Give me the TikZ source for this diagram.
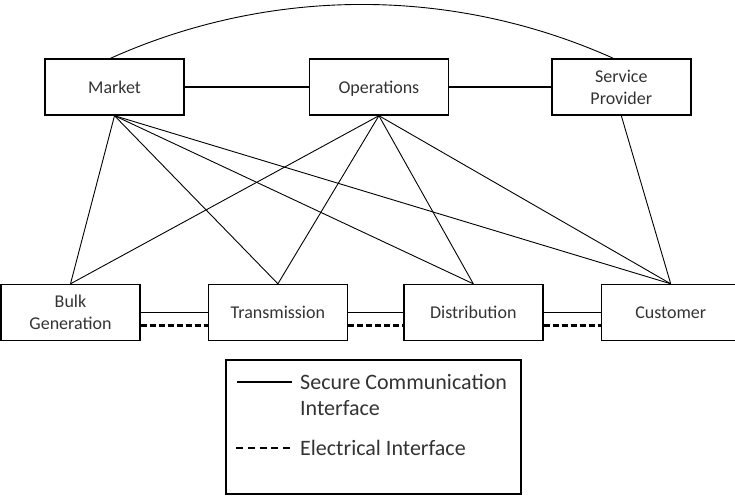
\documentclass[tikz,border=0pt]{standalone}
\usepackage{fontspec}
\setmainfont{Carlito}
\usetikzlibrary{positioning}

\begin{document}
\begin{tikzpicture}[x=1pt, y=-1pt,
  block/.style={draw, rectangle, line width=1.4pt, minimum width=139pt, minimum height=56pt, align=center, inner sep=2pt, font=\fontsize{18}{22}\selectfont, text=black!80},
  link/.style={line width=0.9pt},
  bus/.style={line width=1.4pt},
  feed/.style={line width=2.2pt, dash pattern=on 6pt off 3pt},
  keytext/.style={anchor=west, inner sep=0pt, align=left, font=\fontsize{22}{26}\selectfont, text=black!80}]
\useasboundingbox (0,0) rectangle (735,496);

% top row
\node (market) [block] at (114.5,87) {Market};
\node (ops) [block, text depth=0pt, right=124pt of market] {Operations};
\node (sp) [block, right=102pt of ops] {Service\\Provider};

% bottom row
\node (bulk) [block] at (70.5,312.5) {Bulk\\Generation};
\node (trans) [block, right=67pt of bulk] {Transmission};
\node (dist) [block, right=55pt of trans] {Distribution};
\node (cust) [block, right=57pt of dist] {Customer};

% communication links
\draw[bus] (market) -- (ops);
\draw[bus] (ops) -- (sp);
\coordinate (arcin) at (269.5,-13);
\coordinate (arcout) at (452,-14);
\draw[link] ([xshift=-4pt]market.north) .. controls (arcin) and (arcout) .. ([xshift=-8pt]sp.north);
\draw[link] (market.south) -- (bulk.north);
\draw[link] (market.south) -- (trans.north);
\draw[link] (market.south) -- (dist.north);
\draw[link] (market.south) -- (cust.north);
\draw[link] (ops.south) -- (bulk.north);
\draw[link] (ops.south) -- (trans.north);
\draw[link] (ops.south) -- (dist.north);
\draw[link] (ops.south) -- (cust.north);
\draw[link] (sp.south) -- (cust.north);

% bottom links
\draw[bus] (bulk) -- (trans);
\draw[bus] (trans) -- (dist);
\draw[bus] (dist) -- (cust);
\draw[feed] ([yshift=-13pt]bulk.east) -- ([yshift=-13pt]trans.west);
\draw[feed] ([yshift=-13pt]trans.east) -- ([yshift=-13pt]dist.west);
\draw[feed] ([yshift=-13pt]dist.east) -- ([yshift=-13pt]cust.west);

% legend
\node (legend) [draw, line width=1.4pt, minimum width=295pt, minimum height=134pt] at (373.5,427) {};
\node (seclabel) [keytext] at (300,395) {Secure Communication\\Interface};
\node (elabel) [keytext] at (300,448) {Electrical Interface};
\coordinate (seca) at (237,382);
\coordinate (secb) at (292,382);
\coordinate (ela) at (236,448);
\coordinate (elb) at (290,448);
\draw[line width=1.2pt] (seca) -- (secb);
\draw[line width=1.2pt, dash pattern=on 7pt off 4.75pt] (ela) -- (elb);
\end{tikzpicture}
\end{document}
